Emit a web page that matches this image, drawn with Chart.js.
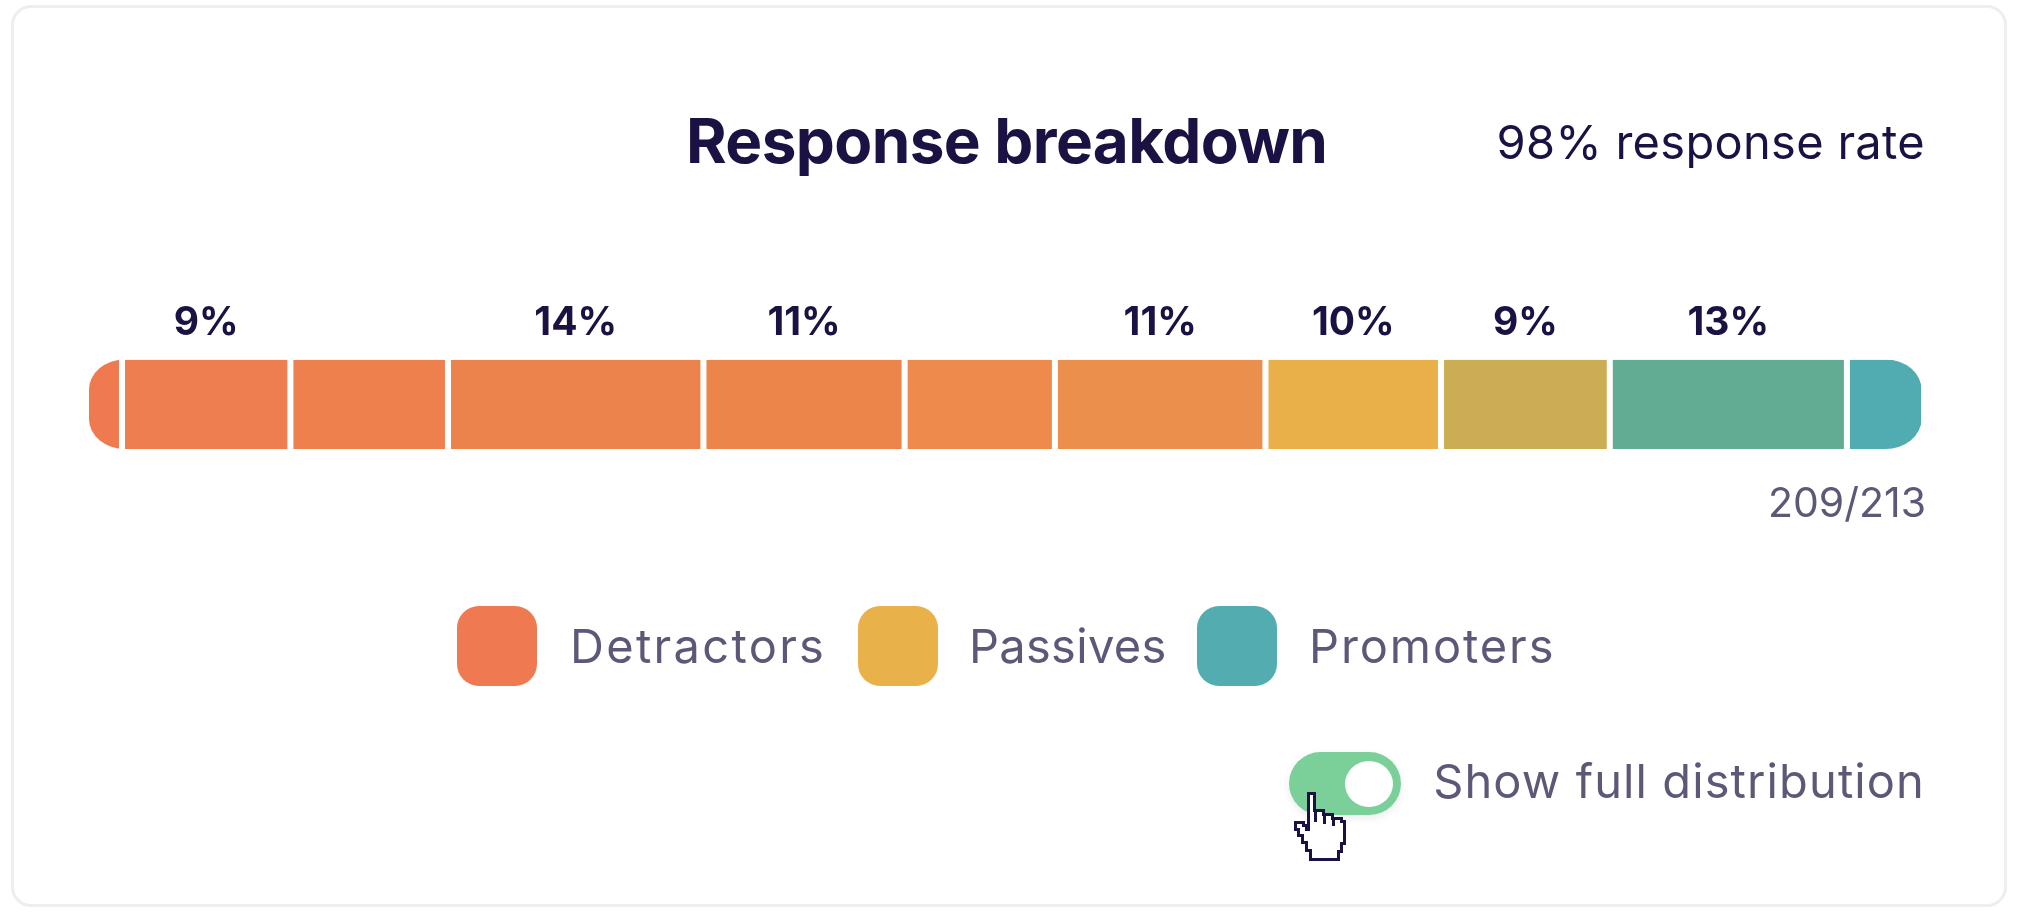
<!DOCTYPE html>
<html>
<head>
<meta charset="utf-8">
<title>Response breakdown</title>
<script src="https://cdn.jsdelivr.net/npm/chart.js@4/dist/chart.umd.js"></script>
<style>
  html, body { margin: 0; padding: 0; background: #fff; }
  body { width: 2018px; height: 918px; position: relative; overflow: hidden; font-family: Inter, sans-serif; }
  #card { position: absolute; left: 11px; top: 5px; width: 1990px; height: 896px; border: 3px solid #eeeeee; border-radius: 20px; }
  #chartBox { position: absolute; left: 0; top: 0; width: 2018px; height: 918px; }
  .txt { position: absolute; white-space: nowrap; line-height: 1; }
  #title { left: 686px; top: 110px; font-size: 62px; font-weight: 700; letter-spacing: -0.6px; color: #1b1243; }
  #rate { right: 93px; top: 118px; font-size: 47px; letter-spacing: 0.3px; color: #1b1243; }
  #count { right: 92px; top: 482px; font-size: 41px; color: #5e5878; }
  .swatch { position: absolute; top: 606px; width: 80px; height: 80px; border-radius: 22px; }
  .legendText { top: 622px; font-size: 47px; color: #5e5878; }
  #toggle { position: absolute; left: 1289px; top: 752px; width: 112px; height: 63px; border-radius: 32px; background: #7bd09a; box-shadow: 0 3px 8px rgba(0,0,0,.08); }
  #knob { position: absolute; left: 56px; top: 9px; width: 48px; height: 46px; border-radius: 50%; background: #fff; }
  #toggleText { right: 93px; top: 757px; font-size: 47px; letter-spacing: 1.1px; color: #5e5878; }
  #hand { position: absolute; left: 1292px; top: 788px; }
</style>
</head>
<body>
<div id="card"></div>
<div id="chartBox"><canvas id="breakdownChart"></canvas></div>
<div class="txt" id="title">Response breakdown</div>
<div class="txt" id="rate">98% response rate</div>
<div class="txt" id="count">209/213</div>
<div id="legend"></div>
<div id="toggle"><div id="knob"></div></div>
<div class="txt" id="toggleText">Show full distribution</div>
<svg id="hand" width="58" height="74" viewBox="0 0 58 74" shape-rendering="crispEdges">
  <path d="M16 5h6v17h9v4h9v4h9v3h3v22h-3v8h-3v8H18v-9h-4v-8h-4v-7H6v-6H3v-7h8v3h3v4h2z" fill="#fff" stroke="#1b1243" stroke-width="3"/>
  <path d="M23 22v12M32 26v10M41 30v8" fill="none" stroke="#1b1243" stroke-width="3"/>
</svg>
<script>
// Score 0 to 10, share of the bar in percent
const scores = ['0', '1', '2', '3', '4', '5', '6', '7', '8', '9', '10'];
const shares = [1.8, 9.19, 8.6, 13.94, 10.98, 8.2, 11.49, 9.58, 9.21, 12.94, 4.07];
const shareLabels = ['', '9%', '', '14%', '11%', '', '11%', '10%', '9%', '13%', ''];
const shareColors = ['#ef7a50', '#ee7d4f', '#ee804e', '#ec834c', '#eb854a', '#ed8a4c', '#eb8f4d', '#e9af49', '#cbad54', '#62ac94', '#50acb0'];

const legendNames = ['Detractors', 'Passives', 'Promoters'];
const legendColors = ['#ef7950', '#e9b149', '#53acb0'];
const legendSwatchX = [457, 858, 1197];
const legendTextX = [570, 969, 1309];
const legendSpacing = [2.3, 0.3, 1.9];

const legendBox = document.getElementById('legend');
legendNames.forEach((name, i) => {
  legendBox.insertAdjacentHTML('beforeend',
    `<div class="swatch" style="left:${legendSwatchX[i]}px;background:${legendColors[i]}"></div>` +
    `<div class="txt legendText" style="left:${legendTextX[i]}px;letter-spacing:${legendSpacing[i]}px">${name}</div>`);
});

const GAP = 3.35;

// rounds the two ends of the whole bar, the segments stay square
const barClip = {
  id: 'barClip',
  beforeDatasetsDraw(chart) {
    const { ctx, chartArea: a } = chart;
    ctx.save();
    ctx.beginPath();
    ctx.roundRect(a.left, a.top, a.right - a.left, a.bottom - a.top, { x: 36, y: 30 });
    ctx.clip();
  },
  afterDatasetsDraw(chart) {
    chart.ctx.restore();
  }
};

// percentage above each segment that has one
const shareText = {
  id: 'shareText',
  afterDraw(chart) {
    const { ctx } = chart;
    ctx.save();
    ctx.font = 'bold 39px Inter';
    ctx.fillStyle = '#1b1243';
    ctx.textAlign = 'center';
    ctx.textBaseline = 'alphabetic';
    shareLabels.forEach((text, i) => {
      if (!text) return;
      const bar = chart.getDatasetMeta(i).data[0];
      const mid = (bar.base + bar.x) / 2;
      ctx.fillText(text, mid, 335);
    });
    ctx.restore();
  }
};

new Chart(document.getElementById('breakdownChart'), {
  type: 'bar',
  plugins: [barClip, shareText],
  data: {
    labels: ['Responses'],
    datasets: scores.map((score, i) => ({
      label: score,
      data: [shares[i]],
      backgroundColor: shareColors[i],
      borderColor: '#ffffff',
      borderSkipped: false,
      borderWidth: {
        left: i === 0 ? 0 : GAP,
        right: i === scores.length - 1 ? 0 : GAP,
        top: 0,
        bottom: 0
      },
      barPercentage: 1,
      categoryPercentage: 1
    }))
  },
  options: {
    indexAxis: 'y',
    responsive: true,
    maintainAspectRatio: false,
    animation: false,
    layout: { padding: { left: 89, right: 96.5, top: 359.5, bottom: 469 } },
    plugins: { legend: { display: false }, tooltip: { enabled: false } },
    scales: {
      x: { stacked: true, min: 0, max: 100, display: false },
      y: { stacked: true, display: false }
    }
  }
});
</script>
</body>
</html>
